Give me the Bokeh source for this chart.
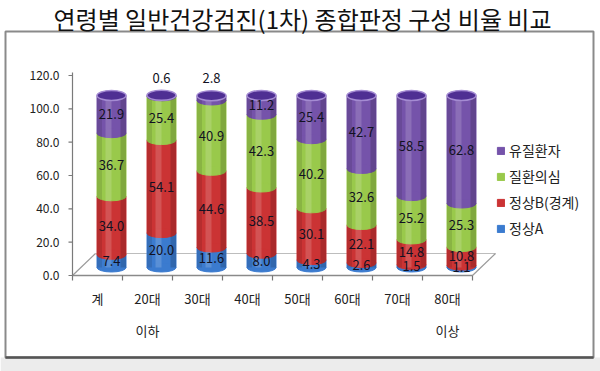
from bokeh.plotting import figure
from bokeh.models import Range1d, Legend, LegendItem
from bokeh.core.properties import value
from bokeh.embed import file_html
from bokeh.resources import INLINE

# ---------------- data ----------------
categories = ["계", "20대\n이하", "30대", "40대", "50대", "60대", "70대", "80대\n이상"]
normal_a = [7.4, 20.0, 11.6, 8.0, 4.3, 2.6, 1.5, 1.1]
normal_b = [34.0, 54.1, 44.6, 38.5, 30.1, 22.1, 14.8, 10.8]
suspect = [36.7, 25.4, 40.9, 42.3, 40.2, 32.6, 25.2, 25.3]
patient = [21.9, 0.6, 2.8, 11.2, 25.4, 42.7, 58.5, 62.8]
series_names = ["정상A", "정상B(경계)", "질환의심", "유질환자"]
y_ticks = [0, 20, 40, 60, 80, 100, 120]
title_text = "연령별 일반건강검진(1차) 종합판정 구성 비율 비교"

# ---------------- style / geometry (canvas pixels) ----------------
colors = ["#3b7bcf", "#cb3334", "#99c94b", "#7553aa"]
cap_fill = "#4f2f93"
cap_line = "#a48bd2"
FONT = "Noto Sans CJK KR"
W, H = 600, 371
AXIS_X, ZERO_Y = 72, 275   # canvas position of value axis and of value 0
PX_X = 50.0                # px per category
PX_Y = 200.0 / 120.0       # px per value unit
PX_YB = 1.72               # px per value unit for the (deeper) bars
BAR_DX, BAR_DY = 14, 8     # depth shift of the bars (px)
BACK_DX, BACK_DY = 23, 22  # depth of the floor (px)
BW = 0.58                  # bar width (category units)

def dx(px):
    return px / PX_X

def dy(px):
    return px / PX_Y

x0 = -0.5 - dx(AXIS_X)
x1 = x0 + dx(W)
y0 = -dy(H - ZERO_Y)
y1 = y0 + dy(H)

p = figure(width=W, height=H, output_backend="svg", toolbar_location=None,
           x_range=Range1d(x0, x1), y_range=Range1d(y0, y1),
           x_axis_location=None, y_axis_location=None, min_border=0)
p.extra_x_ranges = {"bx": Range1d(x0 - dx(BAR_DX), x1 - dx(BAR_DX))}
yb0 = -(H - (ZERO_Y - BAR_DY)) / PX_YB
p.extra_y_ranges = {"by": Range1d(yb0, yb0 + H / PX_YB)}
p.outline_line_color = None
p.grid.visible = False
p.background_fill_color = "white"
p.border_fill_color = "white"

idx = list(range(len(categories)))

# ---------------- chart box & title ----------------
bx_l, bx_r = x0 + dx(5), x0 + dx(593)
bx_t, bx_b = dy(ZERO_Y - 31), -dy(357 - ZERO_Y)
p.quad(left=[x0], right=[x1], top=[bx_b], bottom=[y0], fill_color="#ececec", line_color=None)
p.quad(left=[bx_l], right=[bx_r], top=[bx_t], bottom=[bx_b],
       fill_color=None, line_color="#8a8a8a", line_width=2)
p.line([bx_l, bx_r], [bx_b, bx_b], line_color="#555555", line_width=2.5)
p.text(x=[x0 + dx(302)], y=[dy(ZERO_Y - 18)], text=[title_text],
       text_font=value(FONT), text_font_size="24px", text_color="#111111",
       text_align="center", text_baseline="middle")

# ---------------- floor ----------------
dxb, dyb = dx(BACK_DX), dy(BACK_DY)
left_edge, right_edge = idx[0] - 0.5, idx[-1] + 0.5
p.line([left_edge + dxb, right_edge + dxb], [dyb, dyb], line_color="#bdbdbd", line_width=1.2)
p.line([left_edge, left_edge + dxb], [0, dyb], line_color="#9a9a9a", line_width=1.2)
p.line([right_edge, right_edge + dxb], [0, dyb], line_color="#9a9a9a", line_width=1.2)
p.line([left_edge, right_edge], [0, 0], line_color="#8a8a8a", line_width=1.5)

# ---------------- value axis ----------------
p.line([left_edge, left_edge], [0, y_ticks[-1] + dy(3)], line_color="#7a7a7a", line_width=1.2)
p.segment(x0=[left_edge - dx(4)] * len(y_ticks), y0=y_ticks,
          x1=[left_edge] * len(y_ticks), y1=y_ticks, line_color="#7a7a7a", line_width=1.2)
p.text(x=[left_edge - dx(13)] * len(y_ticks), y=y_ticks, text=[f"{t:.1f}" for t in y_ticks],
       text_font=value(FONT), text_font_size="12px", text_color="#222222",
       text_align="right", text_baseline="middle")

# ---------------- category axis ----------------
bounds = [i - 0.5 for i in idx] + [idx[-1] + 0.5]
p.segment(x0=bounds, y0=[0] * len(bounds), x1=bounds, y1=[-dy(5)] * len(bounds),
          line_color="#777777", line_width=1.2)
cx, cy, ct = [], [], []
for i, c in zip(idx, categories):
    for j, part in enumerate(c.split("\n")):
        cx.append(i)
        cy.append(-dy(23 + 32 * j))
        ct.append(part)
p.text(x=cx, y=cy, text=ct, text_font=value(FONT), text_font_size="13px",
       text_color="#222222", text_align="center", text_baseline="middle")

# ---------------- bars ----------------
series = [normal_a, normal_b, suspect, patient]
bottoms = [0.0] * len(idx)
renderers = []
for k, vals in enumerate(series):
    tops = [b + v for b, v in zip(bottoms, vals)]
    r = p.vbar(x=idx, bottom=bottoms, top=tops, width=BW, fill_color=colors[k],
               line_color=colors[k], x_range_name="bx", y_range_name="by")
    p.ellipse(x=idx, y=bottoms, width=BW, height=9, height_units="screen",
              fill_color=colors[k], line_color=colors[k], x_range_name="bx", y_range_name="by")
    renderers.append(r)
    bottoms = tops
totals = bottoms

# cylinder shading
bands = [(-0.24, 0.10, "black", 0.10), (-0.06, 0.12, "white", 0.16), (0.235, 0.11, "black", 0.16)]
for off, w, c, a in bands:
    p.vbar(x=[i + off for i in idx], bottom=[0] * len(idx), top=totals, width=w,
           fill_color=c, fill_alpha=a, line_color=None, x_range_name="bx", y_range_name="by")

p.ellipse(x=idx, y=totals, width=BW, height=10, height_units="screen",
          fill_color=cap_fill, line_color=cap_line, line_width=1.5,
          x_range_name="bx", y_range_name="by")

# ---------------- value labels ----------------
lx, ly, lt = [], [], []
bottoms = [0.0] * len(idx)
for k, vals in enumerate(series):
    for i, (b, v) in enumerate(zip(bottoms, vals)):
        lx.append(i)
        if k == len(series) - 1 and v < 5:
            ly.append(b + v + 10)
        else:
            ly.append(b + v / 2)
        lt.append(f"{v:.1f}")
    bottoms = [b + v for b, v in zip(bottoms, vals)]
p.text(x=lx, y=ly, text=lt, text_font=value(FONT), text_font_size="13px",
       text_color="#111122", text_align="center", text_baseline="middle",
       x_range_name="bx", y_range_name="by")

# ---------------- legend ----------------
items = [LegendItem(label=series_names[k], renderers=[renderers[k]]) for k in (3, 2, 1, 0)]
legend = Legend(items=items, location=(496, 133), orientation="vertical",
                glyph_width=9, glyph_height=9, label_height=20, spacing=6,
                label_standoff=4, padding=0, margin=0,
                label_text_font=FONT, label_text_font_size="14px", label_text_color="#222222",
                border_line_color=None, background_fill_alpha=0)
p.add_layout(legend, "center")

open("out.html", "w").write(file_html(p, INLINE))
